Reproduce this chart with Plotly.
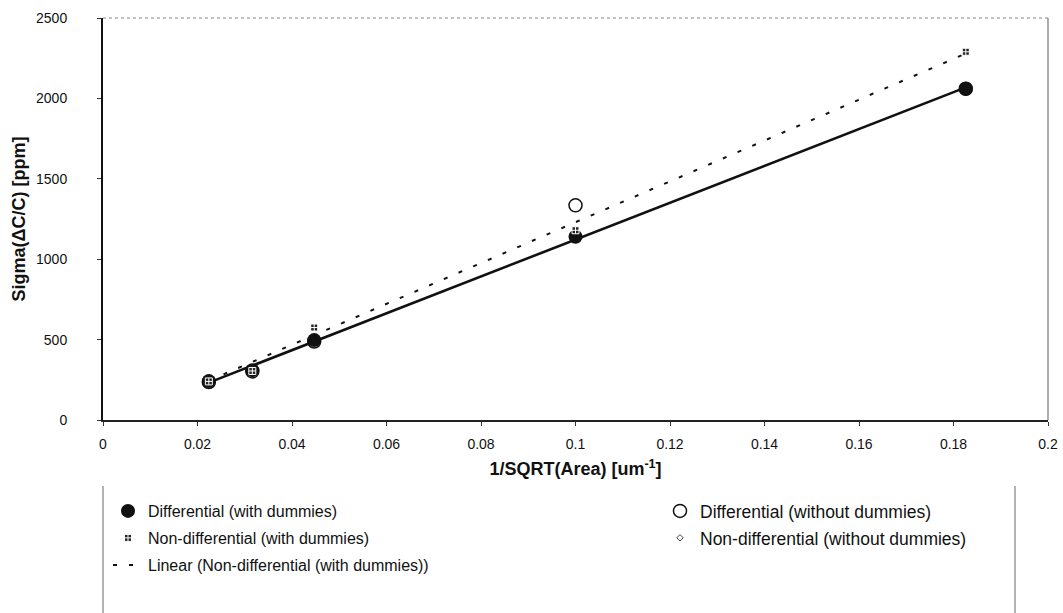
import numpy as np
import plotly.graph_objects as go

# ---- data ----
x_vals = [0.0224, 0.0316, 0.0447, 0.1, 0.1826]
diff_with = [242, 310, 497, 1140, 2060]
diff_without = [236, 302, 488, 1335, 2060]
nondiff_with = [240, 305, 575, 1180, 2290]
nondiff_without = [240, 300, 490, 1150, 2060]
# Excel-style linear trendline of the non-differential (with dummies) series
nondiff_trend_coef = [12700, -40]

x_ticks = [0, 0.02, 0.04, 0.06, 0.08, 0.1, 0.12, 0.14, 0.16, 0.18, 0.2]
x_tick_text = ["0", "0.02", "0.04", "0.06", "0.08", "0.1", "0.12", "0.14", "0.16", "0.18", "0.2"]
y_ticks = [0, 500, 1000, 1500, 2000, 2500]

FONT = "Liberation Sans, Arial, sans-serif"

# plot-area geometry in pixels (for placing the legend block)
L, R, T, B = 103, 1048, 18, 420
PW, PH = R - L, B - T


def px_x(px):
    return (px - L) / PW


def px_y(py):
    return (B - py) / PH


xa = np.array(x_vals)
diff_fit = np.polyfit(xa, np.array(diff_with), 1)
x_line = np.array([xa.min(), xa.max()])

fig = go.Figure()

# solid linear trend through differential (with dummies)
fig.add_trace(go.Scatter(
    x=x_line, y=np.polyval(diff_fit, x_line), mode="lines",
    line=dict(color="#111111", width=2.6), showlegend=False, hoverinfo="skip"))

# dashed linear trend for non-differential (with dummies)
fig.add_trace(go.Scatter(
    x=x_line, y=np.polyval(nondiff_trend_coef, x_line), mode="lines",
    line=dict(color="#111111", width=2, dash="4px,12px"),
    name="Linear (Non-differential (with dummies))",
    legend="legend", legendgroup="g3", legendrank=3))

fig.add_trace(go.Scatter(
    x=x_vals, y=nondiff_without, mode="markers",
    marker=dict(symbol="diamond-open", size=5, color="#444444", line=dict(width=1)),
    name="Non-differential (without dummies)", legend="legend2", legendgroup="h2", legendrank=2))

fig.add_trace(go.Scatter(
    x=x_vals, y=diff_without, mode="markers",
    marker=dict(symbol="circle-open", size=13, color="#111111", line=dict(width=1.5)),
    name="Differential (without dummies)", legend="legend2", legendgroup="h1", legendrank=1))

fig.add_trace(go.Scatter(
    x=x_vals, y=diff_with, mode="markers",
    marker=dict(symbol="circle", size=14, color="#111111"),
    name="Differential (with dummies)", legend="legend", legendgroup="g1", legendrank=1))

fig.add_trace(go.Scatter(
    x=x_vals, y=nondiff_with, mode="markers",
    marker=dict(symbol="square-cross", size=7, color="#222222",
                line=dict(color="white", width=1)),
    name="Non-differential (with dummies)", legend="legend", legendgroup="g2", legendrank=2))

legend_common = dict(
    orientation="v", traceorder="grouped",
    bgcolor="rgba(0,0,0,0)", borderwidth=0,
    xanchor="left", yanchor="top", yref="paper", xref="paper",
    itemsizing="trace",
)

fig.update_layout(
    width=1063, height=613,
    margin=dict(l=L, r=1063 - R, t=T, b=613 - B),
    paper_bgcolor="white", plot_bgcolor="white",
    font=dict(family=FONT, size=14, color="#111111"),
    legend=dict(x=px_x(108), y=px_y(494), tracegroupgap=3.2,
                font=dict(family=FONT, size=16, color="#111111"), **legend_common),
    legend2=dict(x=px_x(660), y=px_y(493), tracegroupgap=1.2,
                 font=dict(family=FONT, size=17.5, color="#111111"), **legend_common),
    shapes=[
        # top and right plot borders (lighter, dotted as in the scan)
        dict(type="line", xref="paper", yref="paper", x0=0, x1=1, y0=1, y1=1,
             line=dict(color="#888888", width=1.2, dash="dot")),
        dict(type="line", xref="paper", yref="paper", x0=1, x1=1, y0=0, y1=1,
             line=dict(color="#777777", width=1.2)),
        # legend box sides
        dict(type="line", xref="paper", yref="paper", x0=0, x1=0,
             y0=px_y(486), y1=px_y(613),
             line=dict(color="#666666", width=1)),
        dict(type="line", xref="paper", yref="paper", x0=px_x(1015), x1=px_x(1015),
             y0=px_y(486), y1=px_y(613),
             line=dict(color="#666666", width=1)),
    ],
)

fig.update_xaxes(
    range=[0, 0.2], tickvals=x_ticks, ticktext=x_tick_text, tickangle=0,
    automargin=False,
    showgrid=False, zeroline=False,
    showline=True, linecolor="#222222", linewidth=1.5, mirror=False,
    ticks="outside", ticklen=4, tickcolor="#333333", ticklabelstandoff=6,
    tickfont=dict(family=FONT, size=14),
    title=dict(text="<b>1/SQRT(Area) [um<sup>-1</sup>]</b>", font=dict(family=FONT, size=18), standoff=12),
)
fig.update_yaxes(
    range=[0, 2500], tickvals=y_ticks,
    automargin=False,
    showgrid=False, zeroline=False,
    showline=True, linecolor="#111111", linewidth=2, mirror=False,
    ticks="outside", ticklen=4, tickcolor="#333333", ticklabelstandoff=27,
    tickfont=dict(family=FONT, size=14),
    title=dict(text="<b>Sigma(\u0394C/C) [ppm]</b>", font=dict(family=FONT, size=18), standoff=6),
)

fig.write_html("out.html")
